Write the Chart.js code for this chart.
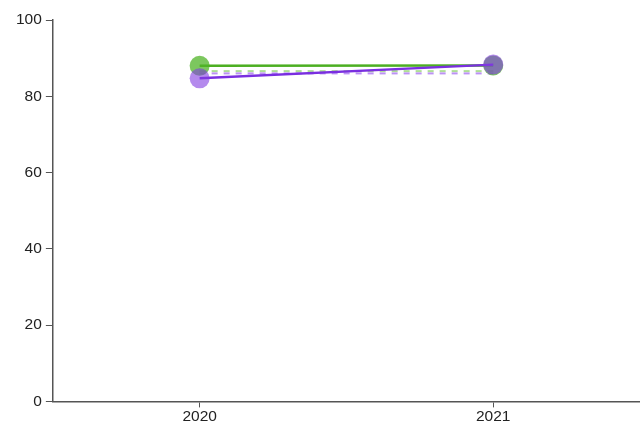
<!DOCTYPE html>
<html>
<head>
<meta charset="utf-8">
<script src="https://cdn.jsdelivr.net/npm/chart.js@4"></script>
<style>
  html, body { margin: 0; padding: 0; background: #fff; }
  #wrap { width: 640px; height: 428px; }
</style>
</head>
<body>
<div id="wrap"><canvas id="chart" width="640" height="428"></canvas></div>
<script>
// categories and values
const years = ["2020", "2021"];
const greenValues = [88.0, 88.1];
const purpleValues = [84.7, 88.3];
const greenRef = [86.6, 86.6];
const purpleRef = [86.0, 86.0];
const yTicks = [0, 20, 40, 60, 80, 100];

const axisColor = "#555";
const textColor = "#222";
const tickFont = { family: "Liberation Sans", size: 15.5 };

// chart.js draws lower dataset indexes on top, so purple comes first
new Chart(document.querySelector("#chart").getContext("2d"), {
  type: "line",
  data: {
    labels: years,
    datasets: [
      {
        label: "purple",
        data: purpleValues,
        borderColor: "#7a2fe0",
        borderWidth: 2.5,
        pointRadius: 10,
        pointBorderWidth: 0,
        pointBackgroundColor: "rgba(130, 60, 225, 0.6)"
      },
      {
        label: "green",
        data: greenValues,
        borderColor: "#4caf22",
        borderWidth: 2.5,
        pointRadius: 10,
        pointBorderWidth: 0,
        pointBackgroundColor: "rgba(80, 180, 40, 0.75)"
      },
      {
        label: "purple ref",
        data: purpleRef,
        borderColor: "rgba(165, 110, 240, 0.75)",
        borderWidth: 2,
        borderDash: [6, 6],
        pointRadius: 0
      },
      {
        label: "green ref",
        data: greenRef,
        borderColor: "rgba(120, 200, 80, 0.6)",
        borderWidth: 2,
        borderDash: [6, 6],
        pointRadius: 0
      }
    ]
  },
  options: {
    responsive: false,
    animation: false,
    layout: { autoPadding: false, padding: { top: 20, right: 0, left: 12, bottom: 2 } },
    plugins: { legend: { display: false }, tooltip: { enabled: false } },
    scales: {
      x: {
        offset: true,
        grid: { drawOnChartArea: false, drawTicks: true, tickLength: 6, color: axisColor, offset: false },
        border: { color: axisColor, width: 1.5 },
        ticks: { color: textColor, font: tickFont, padding: 0 }
      },
      y: {
        min: 0,
        max: 100,
        afterBuildTicks: (axis) => { axis.ticks = yTicks.map((v) => ({ value: v })); },
        grid: { drawOnChartArea: false, drawTicks: true, tickLength: 7, color: axisColor },
        border: { color: axisColor, width: 1.5 },
        ticks: { color: textColor, font: tickFont, padding: 4 }
      }
    }
  }
});
</script>
</body>
</html>
